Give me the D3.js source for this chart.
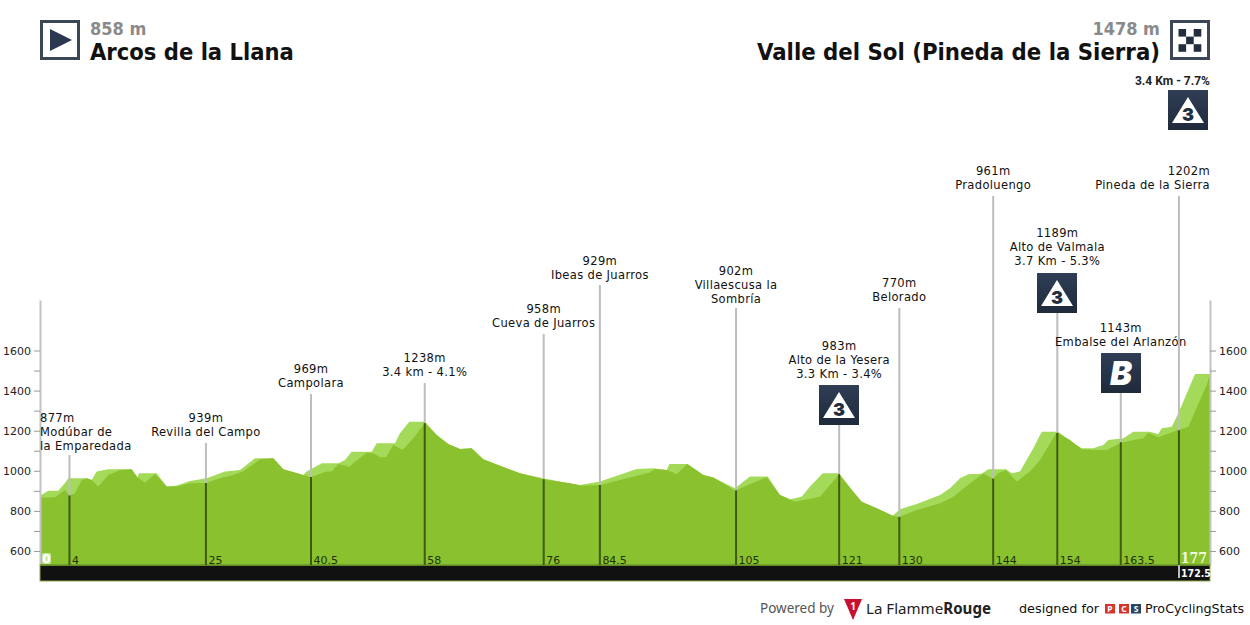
<!DOCTYPE html>
<html>
<head>
<meta charset="utf-8">
<script src="https://cdnjs.cloudflare.com/ajax/libs/d3/7.8.5/d3.min.js"></script>
<style>
  body { margin: 0; background: #fff; }
  svg { display: block; }
  text { font-family: "DejaVu Sans", sans-serif; }
  .axis text { font-size: 11px; fill: #222; }
  .axis line { stroke: #999; }
  .axis path { stroke: #c4c4c4; stroke-width: 2; }
</style>
</head>
<body>
<svg id="chart" width="1250" height="625"></svg>
<script>
// profile: [km, metres]
const backProfile = [[0,876],[1.26,901],[2.77,901],[3.78,939],[4.28,963],[7.07,963],[7.82,954],[8.58,996],[10.33,1008],[13.87,1008],[14.72,968],[15.02,988],[17.65,988],[19.17,921],[20.68,926],[22.69,949],[25.22,963],[27.99,996],[30.26,1004],[32.53,1062],[35.3,1062],[36.81,1008],[39.83,979],[40.35,996],[42.62,1037],[45.13,1037],[46.14,1054],[47.16,1095],[50.18,1095],[50.94,1137],[53.71,1137],[54.46,1187],[55.87,1245],[58.25,1245],[60.02,1179],[61.77,1134],[63.54,1109],[65.31,1112],[67.06,1057],[69.59,1025],[72.62,988],[76.14,963],[79.17,943],[81.69,929],[84.72,946],[90.27,1009],[92.78,1013],[94.81,1004],[95.21,1034],[97.93,1034],[100.35,979],[101.86,966],[105.14,913],[107.41,971],[110.09,971],[111.95,879],[113.46,858],[115.23,871],[116.49,921],[118.41,988],[120.88,988],[123.04,896],[124.31,846],[126.58,813],[129,776],[130.1,808],[132.63,834],[136.16,879],[137.67,913],[139.18,963],[140.44,983],[142.47,985],[143.46,1008],[146.14,1008],[147,988],[148.26,996],[150.27,1112],[151.54,1195],[154.05,1195],[155.57,1154],[157.59,1112],[159.35,1112],[160.86,1129],[161.62,1154],[163.89,1162],[165.4,1195],[167.92,1195],[169.18,1184],[169.7,1212],[171.21,1220],[172.21,1287],[174.73,1483],[177,1483]];
const frontProfile = [[0,866],[2.27,868],[3.78,904],[4.46,877],[5.3,888],[6.31,954],[7.07,963],[7.82,954],[8.82,921],[10.33,979],[12.1,1004],[13.87,1008],[14.72,968],[15.88,941],[17.4,984],[19.17,921],[20.68,921],[22.69,938],[25.1,939],[27.23,963],[29.2,979],[30.71,996],[33.28,1057],[35.3,1062],[36.81,1008],[39.83,979],[41,969],[43.37,996],[44.13,996],[45.13,1034],[46.8,1020],[47.65,1045],[49.42,1090],[50.42,1087],[51.44,1067],[52.34,1067],[53.45,1129],[54.87,1104],[56.47,1162],[58.25,1238],[60.02,1179],[61.77,1134],[63.54,1109],[65.31,1112],[67.06,1057],[69.59,1025],[72.62,988],[76.14,958],[80.18,938],[81.95,925],[84.72,929],[86.23,941],[90.76,979],[92.28,991],[93.04,1009],[94.81,1004],[96.32,984],[97.93,1034],[100.35,979],[101.86,966],[105.14,902],[109.94,968],[111.95,879],[114.22,846],[118,871],[120.88,983],[123.04,896],[124.31,846],[126.58,813],[129,776],[129.95,770],[132.63,805],[136.16,838],[138.17,871],[140.7,938],[142.71,988],[144.12,961],[144.98,988],[146.14,1004],[147.76,946],[149.77,996],[151.29,1054],[153.81,1192],[155.83,1154],[157.59,1107],[159.86,1104],[161.38,1104],[163.4,1137],[165.4,1154],[166.92,1162],[167.67,1190],[169.18,1167],[172.21,1204],[173.72,1220],[175.49,1353],[176.5,1428],[177,1483]];

const markerKm = [4.46,25.1,41,58.2,76.2,84.7,105.3,120.9,130,144.2,153.9,163.5,172.3];
const markerElevation = [877,939,969,1238,958,929,902,983,770,961,1189,1143,1202];
const markerKmLabels = ['4','25','40.5','58','76','84.5','105','121','130','144','154','163.5','172.5'];
const markerNames = [
  ['Modúbar de','la Emparedada'],
  ['Revilla del Campo'],
  ['Campolara'],
  ['3.4 km - 4.1%'],
  ['Cueva de Juarros'],
  ['Ibeas de Juarros'],
  ['Villaescusa la','Sombría'],
  ['Alto de la Yesera','3.3 Km - 3.4%'],
  ['Belorado'],
  ['Pradoluengo'],
  ['Alto de Valmala','3.7 Km - 5.3%'],
  ['Embalse del Arlanzón'],
  ['Pineda de la Sierra']
];
const yTicks = [600,700,800,900,1000,1100,1200,1300,1400,1500,1600];

// layout
const left = 40, right = 1210, plotTop = 300, base = 565;
const stemTops = [455,443,394,383,334,285,308,425,308,196,313,393,196];
const labelTops = [410,410,361,350,301,253,263,338,275,163,225,320,163];
const badges = [{t:'3',x:819,y:385},{t:'3',x:1037,y:273},{t:'B',x:1101,y:353},{t:'3',x:1168,y:90}];

const svg = d3.select('#chart');
const x = d3.scaleLinear().domain([0,177]).range([left,right]);
const y = d3.scaleLinear().domain([530,1852]).range([base,plotTop]);

const defs = svg.append('defs');
const grad = defs.append('linearGradient').attr('id','badge').attr('x1',0).attr('y1',0).attr('x2',0).attr('y2',1);
grad.append('stop').attr('offset','0').attr('stop-color','#2f3e55');
grad.append('stop').attr('offset','1').attr('stop-color','#1f2a3b');

const area = d3.area().x(d => x(d[0])).y0(base).y1(d => y(d[1]));
svg.append('path').attr('d', area(backProfile)).attr('fill','#a4da5a');
svg.append('path').attr('d', area(frontProfile)).attr('fill','#8ac22f');

// axes
svg.append('g').attr('class','axis').attr('transform',`translate(${left},0)`)
  .call(d3.axisLeft(y).tickValues(yTicks).tickSize(6).tickSizeOuter(0)
    .tickFormat(d => d % 200 == 0 ? d : ''));
svg.append('g').attr('class','axis').attr('transform',`translate(${right},0)`)
  .call(d3.axisRight(y).tickValues(yTicks).tickSize(6).tickSizeOuter(0)
    .tickFormat(d => d % 200 == 0 ? d : ''));

// black km band
svg.append('rect').attr('x',left).attr('y',base).attr('width',right-left).attr('height',16).attr('fill','#111').attr('stroke','#8fa850').attr('stroke-width',1);
svg.append('line').attr('x1',left).attr('x2',right).attr('y1',base).attr('y2',base).attr('stroke','#6b9a26').attr('stroke-width',1.5);

// markers
markerKm.forEach((km,i) => {
  const px = x(km), py = y(markerElevation[i]);
  svg.append('line').attr('x1',px).attr('x2',px).attr('y1',stemTops[i]).attr('y2',py).attr('stroke','#bdbdbd').attr('stroke-width',2);
  svg.append('line').attr('x1',px).attr('x2',px).attr('y1',py).attr('y2',base).attr('stroke','#3f5a12').attr('stroke-width',2);
  if (i < 12) {
    svg.append('text').attr('x',px+2.5).attr('y',base-1.5).attr('font-size',11).attr('fill','#1d3305').text(markerKmLabels[i]);
  }

  // first and last labels are pushed inside the plot edges
  const anchor = i == 0 ? 'start' : i == 12 ? 'end' : 'middle';
  const tx = i == 0 ? left : i == 12 ? right : px;
  let lines = [markerElevation[i] + 'm'].concat(markerNames[i]);
  lines.forEach((l,j) => {
    svg.append('text').attr('x',tx).attr('y',labelTops[i] + 12 + j*14).attr('text-anchor',anchor)
      .attr('font-size',12.8).style('font-stretch','condensed').style('letter-spacing','0.35px').attr('fill','#111').text(l);
  });
});

function badge(px, py, t) {
  svg.append('rect').attr('x',px).attr('y',py).attr('width',40).attr('height',40).attr('fill','url(#badge)');
  if (t == 'B') {
    svg.append('text').attr('x',px+20).attr('y',py+32).attr('text-anchor','middle').attr('font-size',33)
      .attr('font-weight',900).attr('font-style','italic').attr('fill','#fff').style('font-family','Inter').text('B');
  } else {
    svg.append('path').attr('d',`M${px+20},${py+7}L${px+36},${py+33}L${px+4},${py+33}Z`).attr('fill','#fff');
    svg.append('text').attr('x',px+20).attr('y',py+31).attr('text-anchor','middle').attr('font-size',18)
      .attr('font-weight',900).attr('fill','#222d3e').style('font-family','Inter').text(t);
  }
}
badges.forEach(b => badge(b.x,b.y,b.t));
svg.append('text').attr('x',1210).attr('y',85).attr('text-anchor','end').attr('font-size',12).attr('font-weight',700)
  .attr('fill','#222').style('font-family','"Liberation Sans Narrow", "Roboto"').text('3.4 Km - 7.7%');

// start / finish km
svg.append('rect').attr('x',42).attr('y',553).attr('width',9).attr('height',11).attr('rx',2).attr('fill','#c8e89a');
svg.append('text').attr('x',46.5).attr('y',563).attr('text-anchor','middle').attr('font-size',12).attr('font-weight',700).attr('fill','#fff').text('0');
svg.append('text').attr('x',1194).attr('y',563).attr('text-anchor','middle').attr('font-size',14).attr('font-weight',700).attr('fill','#f0fadc').style('font-family','"DejaVu Serif"').style('font-stretch','condensed').text('177');
svg.append('line').attr('x1',1179).attr('x2',1179).attr('y1',565).attr('y2',578).attr('stroke','#bdbdbd').attr('stroke-width',2);
svg.append('text').attr('x',1181).attr('y',577).attr('font-size',10.5).attr('font-weight',700).style('font-stretch','condensed').attr('fill','#fff').text('172.5');

// header
svg.append('rect').attr('x',41.5).attr('y',21.5).attr('width',37).attr('height',37).attr('fill','#fff').attr('stroke','#3b4657').attr('stroke-width',3);
svg.append('path').attr('d','M50,29L72,40L50,51Z').attr('fill','#2b3950');
svg.append('rect').attr('x',1171.5).attr('y',21.5).attr('width',37).attr('height',37).attr('fill','#fff').attr('stroke','#3b4657').attr('stroke-width',3);
const checkers = [[0,0],[2,0],[1,1],[0,2],[2,2]];
svg.selectAll('.chk').data(checkers).enter().append('rect').attr('class','chk')
  .attr('x',d => 1178.5+d[0]*7.6).attr('y',d => 29+d[1]*7.6).attr('width',7.6).attr('height',7.6).attr('fill','#222d3e');

function head(tx, ty, s, size, col, anchor) {
  svg.append('text').attr('x',tx).attr('y',ty).attr('font-size',size).attr('font-weight',700).attr('fill',col)
    .attr('text-anchor',anchor).style('font-stretch','condensed').text(s);
}
head(90,35,'858 m',18,'#8a8a8a','start');
head(90,60,'Arcos de la Llana',23.5,'#111','start');
head(1160,35,'1478 m',18,'#8a8a8a','end');
head(1160,60,'Valle del Sol (Pineda de la Sierra)',23.7,'#111','end');

// footer
svg.append('text').attr('x',760).attr('y',613).attr('font-size',13.5).attr('fill','#555').style('font-family','"Noto Sans"').text('Powered by');
svg.append('path').attr('d','M844,599L862,599L853,620Z').attr('fill','#c8102e');
svg.append('text').attr('x',853).attr('y',610).attr('text-anchor','middle').attr('font-size',10).attr('font-weight',700).attr('fill','#fff').style('font-family','"Noto Sans"').text('1');
const lf = svg.append('text').attr('x',866).attr('y',614).attr('font-size',15.1).attr('fill','#222').style('font-family','"Noto Sans"');
lf.append('tspan').text('La Flamme');
lf.append('tspan').attr('font-weight',700).text('Rouge');
svg.append('text').attr('x',1019).attr('y',613).attr('font-size',12.8).attr('fill','#111').text('designed for');
[['P','#d8342c',1105],['C','#d8342c',1119],['S','#2c4560',1131]].forEach(p => {
  svg.append('rect').attr('x',p[2]).attr('y',604).attr('width',10).attr('height',9.5).attr('fill',p[1]);
  svg.append('text').attr('x',p[2]+5).attr('y',612).attr('text-anchor','middle').attr('font-size',8.5).attr('font-weight',700).attr('fill','#fff').style('font-family','"Noto Sans"').text(p[0]);
});
svg.append('text').attr('x',1145).attr('y',613).attr('font-size',12.7).attr('fill','#111').text('ProCyclingStats');
</script>
</body>
</html>
